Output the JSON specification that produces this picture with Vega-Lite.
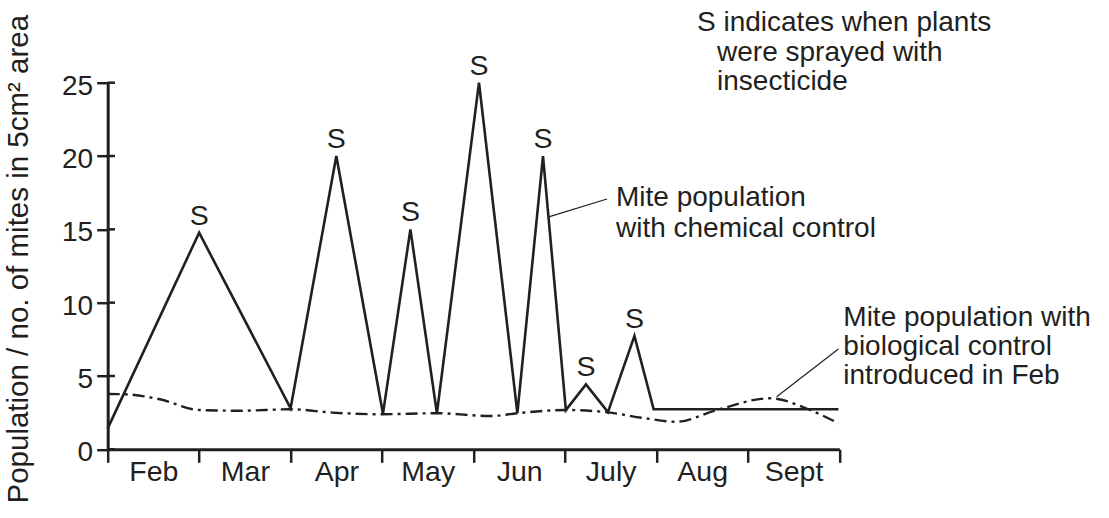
{
  "$schema": "https://vega.github.io/schema/vega-lite/v6.json",
  "autosize": {"type": "none"},
  "width": 731.6,
  "height": 366.6,
  "padding": {"left": 107.7, "top": 82.7, "right": 269.7, "bottom": 68.7},
  "background": "white",
  "config": {
    "view": {"stroke": null},
    "font": "Liberation Sans",
    "axis": {"domainColor": "#231f20", "tickColor": "#231f20", "labelColor": "#231f20", "titleColor": "#231f20", "grid": false}
  },
  "datasets": {
    "chem": [
      {"t": 0, "mites": 1.43, "spray": ""},
      {"t": 1.0, "mites": 14.77, "spray": "S"},
      {"t": 2.0, "mites": 2.8, "spray": ""},
      {"t": 2.5, "mites": 20, "spray": "S"},
      {"t": 3.01, "mites": 2.43, "spray": ""},
      {"t": 3.31, "mites": 15, "spray": "S"},
      {"t": 3.6, "mites": 2.46, "spray": ""},
      {"t": 4.06, "mites": 25, "spray": "S"},
      {"t": 4.48, "mites": 2.46, "spray": ""},
      {"t": 4.76, "mites": 20, "spray": "S"},
      {"t": 5.01, "mites": 2.68, "spray": ""},
      {"t": 5.23, "mites": 4.43, "spray": "S"},
      {"t": 5.47, "mites": 2.54, "spray": ""},
      {"t": 5.76, "mites": 7.73, "spray": "S"},
      {"t": 5.97, "mites": 2.73, "spray": ""},
      {"t": 7.99, "mites": 2.73, "spray": ""}
    ],
    "bio": [
      {"t": 0, "mites": 3.77},
      {"t": 0.19, "mites": 3.75},
      {"t": 0.57, "mites": 3.41},
      {"t": 1.0, "mites": 2.68},
      {"t": 1.45, "mites": 2.63},
      {"t": 2.0, "mites": 2.73},
      {"t": 2.46, "mites": 2.5},
      {"t": 3.0, "mites": 2.39},
      {"t": 3.6, "mites": 2.46},
      {"t": 4.18, "mites": 2.27},
      {"t": 4.48, "mites": 2.46},
      {"t": 5.0, "mites": 2.68},
      {"t": 5.47, "mites": 2.52},
      {"t": 5.85, "mites": 2.14},
      {"t": 6.22, "mites": 1.88},
      {"t": 6.66, "mites": 2.68},
      {"t": 7.24, "mites": 3.48},
      {"t": 7.68, "mites": 2.68},
      {"t": 7.99, "mites": 1.77}
    ],
    "notes": [
      {"t": 6.444, "v": 28.5, "label": "S indicates when plants"},
      {"t": 6.663, "v": 26.5, "label": "were sprayed with"},
      {"t": 6.663, "v": 24.5, "label": "insecticide"},
      {"t": 5.558, "v": 16.6, "label": "Mite population"},
      {"t": 5.558, "v": 14.5, "label": "with chemical control"},
      {"t": 8.044, "v": 8.4, "label": "Mite population with"},
      {"t": 8.044, "v": 6.44, "label": "biological control"},
      {"t": 8.044, "v": 4.45, "label": "introduced in Feb"}
    ],
    "leaders": [
      {"t1": 4.823, "v1": 15.85, "t2": 5.46, "v2": 17.07},
      {"t1": 7.315, "v1": 3.59, "t2": 7.99, "v2": 6.84}
    ],
    "yticks": [{"v": 0}, {"v": 5}, {"v": 10}, {"v": 15}, {"v": 20}, {"v": 25}]
  },
  "layer": [
    {
      "data": {"name": "bio"},
      "mark": {"type": "line", "interpolate": "monotone", "color": "#231f20", "strokeWidth": 2.4, "strokeDash": [12, 5, 3, 5]},
      "encoding": {
        "x": {
          "field": "t", "type": "quantitative",
          "scale": {"domain": [0, 8], "nice": false, "zero": false},
          "axis": {
            "title": null,
            "values": [0, 0.5, 1, 1.5, 2, 2.5, 3, 3.5, 4, 4.5, 5, 5.5, 6, 6.5, 7, 7.5, 8],
            "labelExpr": "datum.value % 1 == 0 ? '' : ['Feb','Mar','Apr','May','Jun','July','Aug','Sept'][floor(datum.value)]",
            "tickOpacity": {"condition": {"test": "datum.value % 1 != 0", "value": 0}, "value": 1},
            "tickSize": 13, "tickWidth": 2.5, "domainWidth": 3,
            "labelFontSize": 28.5, "labelPadding": -4.5, "labelOverlap": false, "labelFlush": false, "labelBound": false
          }
        },
        "y": {
          "field": "mites", "type": "quantitative",
          "scale": {"domain": [0, 25], "nice": false, "zero": false},
          "axis": {
            "title": "Population / no. of mites in 5cm² area",
            "titleFontSize": 29.5, "titleFontWeight": "normal",
            "titleX": -80, "titleY": 176, "titleBaseline": "alphabetic", "titleAngle": -90,
            "values": [0, 5, 10, 15, 20, 25],
            "tickSize": 11, "tickWidth": 2.5, "domainWidth": 3,
            "labelFontSize": 28, "labelPadding": 4, "labelOffset": 3.5
          }
        }
      }
    },
    {
      "data": {"name": "chem"},
      "mark": {"type": "line", "color": "#231f20", "strokeWidth": 2.6, "strokeJoin": "miter"},
      "encoding": {
        "x": {"field": "t", "type": "quantitative"},
        "y": {"field": "mites", "type": "quantitative"}
      }
    },
    {
      "data": {"name": "chem"},
      "transform": [{"filter": "datum.spray == 'S'"}],
      "mark": {"type": "text", "fontSize": 28.5, "color": "#231f20", "baseline": "alphabetic", "align": "center", "dy": -8},
      "encoding": {
        "x": {"field": "t", "type": "quantitative"},
        "y": {"field": "mites", "type": "quantitative"},
        "text": {"field": "spray"}
      }
    },
    {
      "data": {"name": "notes"},
      "mark": {"type": "text", "fontSize": 28, "color": "#231f20", "baseline": "alphabetic", "align": "left"},
      "encoding": {
        "x": {"field": "t", "type": "quantitative"},
        "y": {"field": "v", "type": "quantitative"},
        "text": {"field": "label"}
      }
    },
    {
      "data": {"name": "leaders"},
      "mark": {"type": "rule", "color": "#231f20", "strokeWidth": 1.2},
      "encoding": {
        "x": {"field": "t1", "type": "quantitative"},
        "y": {"field": "v1", "type": "quantitative"},
        "x2": {"field": "t2"},
        "y2": {"field": "v2"}
      }
    },
    {
      "data": {"name": "yticks"},
      "mark": {"type": "rule", "color": "#231f20", "strokeWidth": 2.5},
      "encoding": {
        "x": {"datum": 0},
        "x2": {"datum": 0.08},
        "y": {"field": "v", "type": "quantitative"}
      }
    }
  ]
}
